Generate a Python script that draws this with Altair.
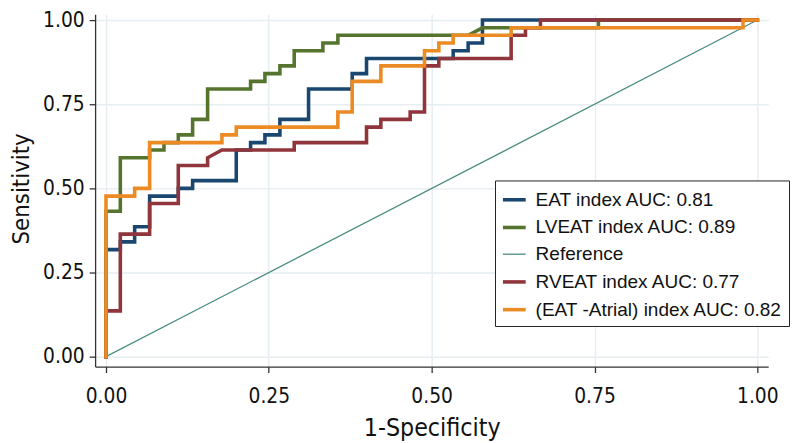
import altair as alt
import pandas as pd

# ROC points (1-Specificity, Sensitivity)
eat_x = [0, 0, 0.022, 0.022, 0.044, 0.044, 0.067, 0.067, 0.111, 0.111, 0.133, 0.133, 0.2, 0.2, 0.222, 0.222, 0.244, 0.244, 0.267, 0.267, 0.311, 0.311, 0.378, 0.378, 0.4, 0.4, 0.533, 0.533, 0.556, 0.556, 0.578, 0.578, 1]
eat_y = [0, 0.318, 0.318, 0.341, 0.341, 0.386, 0.386, 0.477, 0.477, 0.5, 0.5, 0.523, 0.523, 0.614, 0.614, 0.636, 0.636, 0.659, 0.659, 0.705, 0.705, 0.795, 0.795, 0.841, 0.841, 0.886, 0.886, 0.909, 0.909, 0.932, 0.932, 1, 1]

lveat_x = [0, 0, 0.022, 0.022, 0.067, 0.067, 0.089, 0.089, 0.111, 0.111, 0.133, 0.133, 0.156, 0.156, 0.222, 0.222, 0.244, 0.244, 0.267, 0.267, 0.289, 0.289, 0.333, 0.333, 0.356, 0.356, 0.556, 0.578, 0.756, 0.756, 1]
lveat_y = [0, 0.432, 0.432, 0.591, 0.591, 0.614, 0.614, 0.636, 0.636, 0.659, 0.659, 0.705, 0.705, 0.795, 0.795, 0.818, 0.818, 0.841, 0.841, 0.864, 0.864, 0.909, 0.909, 0.932, 0.932, 0.955, 0.955, 0.977, 0.977, 1, 1]

ref_x = [0, 1]
ref_y = [0, 1]

rveat_x = [0, 0, 0.022, 0.022, 0.067, 0.067, 0.111, 0.111, 0.156, 0.156, 0.178, 0.289, 0.289, 0.4, 0.4, 0.422, 0.422, 0.467, 0.467, 0.489, 0.489, 0.511, 0.511, 0.622, 0.622, 0.644, 0.644, 0.667, 0.667, 1]
rveat_y = [0, 0.136, 0.136, 0.364, 0.364, 0.455, 0.455, 0.568, 0.568, 0.591, 0.614, 0.614, 0.636, 0.636, 0.682, 0.682, 0.705, 0.705, 0.727, 0.727, 0.864, 0.864, 0.886, 0.886, 0.955, 0.955, 0.977, 0.977, 1, 1]

atrial_x = [0, 0, 0.044, 0.044, 0.067, 0.067, 0.178, 0.178, 0.2, 0.2, 0.356, 0.356, 0.378, 0.378, 0.422, 0.422, 0.489, 0.489, 0.511, 0.511, 0.533, 0.533, 0.622, 0.622, 0.978, 0.978, 1]
atrial_y = [0, 0.477, 0.477, 0.5, 0.5, 0.636, 0.636, 0.659, 0.659, 0.682, 0.682, 0.727, 0.727, 0.818, 0.818, 0.864, 0.864, 0.909, 0.909, 0.932, 0.932, 0.955, 0.955, 0.977, 0.977, 1, 1]

series_names = [
    "EAT index AUC: 0.81",
    "LVEAT index AUC: 0.89",
    "Reference",
    "RVEAT index AUC: 0.77",
    "(EAT -Atrial) index AUC: 0.82",
]
series_x = [eat_x, lveat_x, ref_x, rveat_x, atrial_x]
series_y = [eat_y, lveat_y, ref_y, rveat_y, atrial_y]

tick_values = [0, 0.25, 0.5, 0.75, 1.0]

colors = ["#1a476f", "#55752f", "#4a8c80", "#90353b", "#ec8a24"]
widths = [3.6, 3.6, 1.3, 3.6, 3.6]

rows = []
for name, xs, ys in zip(series_names, series_x, series_y):
    for i, (xv, yv) in enumerate(zip(xs, ys)):
        rows.append({"series": name, "fpr": xv, "tpr": yv, "idx": i})
df = pd.DataFrame(rows)

NARROW = "DejaVu Sans Condensed, Liberation Sans Narrow, sans-serif"
REG = "Liberation Sans, Arial, Helvetica, sans-serif"

x_enc = alt.X(
    "fpr:Q",
    scale=alt.Scale(domain=[-0.0167, 1.0167], nice=False, zero=False),
    axis=alt.Axis(
        values=tick_values, format=".2f", title="1-Specificity",
        grid=True, gridColor="#e6eef1", gridWidth=1.5,
        domainColor="#333333", domainWidth=1.3, tickColor="#333333", tickWidth=1.3, tickSize=6,
        labelFont=NARROW, labelFontSize=21, labelColor="#111111", labelPadding=13,
        titleFont=NARROW, titleFontSize=25, titleFontWeight="normal", titleColor="#111111",
        titleX=340, titleY=62, titleBaseline="middle",
    ),
)
y_enc = alt.Y(
    "tpr:Q",
    scale=alt.Scale(domain=[-0.0294, 1.0176], nice=False, zero=False),
    axis=alt.Axis(
        values=tick_values, format=".2f", title="Sensitivity",
        grid=True, gridColor="#e6eef1", gridWidth=1.5,
        domainColor="#333333", domainWidth=1.3, tickColor="#333333", tickWidth=1.3, tickSize=6,
        labelFont=NARROW, labelFontSize=21, labelColor="#111111", labelPadding=5,
        titleFont=NARROW, titleFontSize=24, titleFontWeight="normal", titleColor="#111111",
        titleX=-74, titleY=176, titleAngle=270, titleBaseline="middle", titleAlign="center",
    ),
)
legend_cfg = dict(
    orient="none", legendX=404, legendY=168, title=None,
    labelFont=REG, labelFontSize=19.2, labelColor="#111111", labelLimit=400,
    symbolType="stroke", symbolSize=529, labelOffset=8,
    strokeColor="#222222", fillColor="white", padding=6, rowPadding=4,
)
color_enc = alt.Color(
    "series:N",
    scale=alt.Scale(domain=series_names, range=colors),
    legend=alt.Legend(**legend_cfg),
)
sw_enc = alt.StrokeWidth(
    "series:N",
    scale=alt.Scale(type="ordinal", domain=series_names, range=widths),
    legend=alt.Legend(**legend_cfg),
)

layers = []
for name in series_names:
    layers.append(
        alt.Chart(df)
        .transform_filter(alt.datum.series == name)
        .mark_line(interpolate="linear", strokeCap="square", strokeJoin="miter")
        .encode(x=x_enc, y=y_enc, color=color_enc, strokeWidth=sw_enc, order="idx:Q")
    )

chart = (
    alt.layer(*layers)
    .properties(
        width=680, height=356,
        autosize=alt.AutoSizeParams(type="none"),
        padding={"left": 88, "top": 4, "right": 22, "bottom": 76},
        background="white",
    )
    .configure_view(stroke=None)
)

chart.save("out.html", embed_options={"renderer": "svg", "actions": False})
